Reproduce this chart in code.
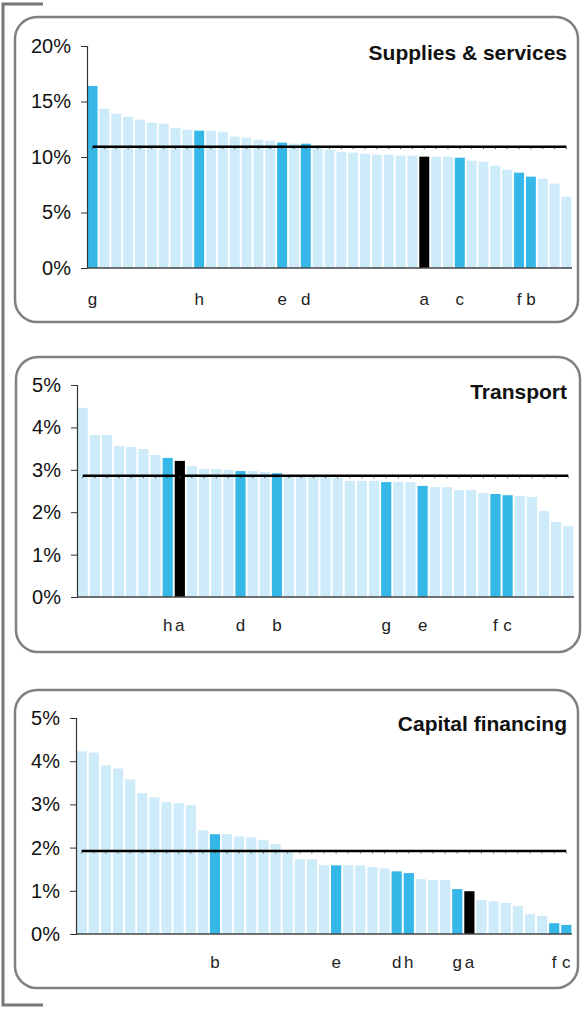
<!DOCTYPE html>
<html>
<head>
<meta charset="utf-8">
<script src="https://cdn.jsdelivr.net/npm/d3@7"></script>
<style>
  body { margin: 0; background: #fff; }
  svg { display: block; font-family: "Liberation Sans", Arial, sans-serif; }
  .tick text { font-size: 20px; fill: #111; font-family: "Liberation Sans", Arial, sans-serif; }
  .catText { font-size: 17px; fill: #222; text-anchor: middle; }
  .title { font-size: 21px; font-weight: bold; fill: #111; text-anchor: end; }
</style>
</head>
<body>
<div id="chart"></div>
<script>
// Datos de los tres paneles (ordenados de mayor a menor)

var suppliesValues = [16.4, 14.35, 13.9, 13.63, 13.36, 13.09, 13.0, 12.64, 12.46, 12.37,
  12.37, 12.28, 11.83, 11.74, 11.56, 11.47, 11.29, 11.2, 11.2, 10.84,
  10.66, 10.48, 10.39, 10.3, 10.21, 10.21, 10.12, 10.12, 10.03, 10.03,
  10.03, 9.94, 9.67, 9.58, 9.22, 8.86, 8.59, 8.23, 8.05, 7.6, 6.43];
var suppliesLabels = ["g", "", "", "", "", "", "", "", "", "h",
  "", "", "", "", "", "", "e", "", "d", "",
  "", "", "", "", "", "", "", "", "a", "",
  "", "c", "", "", "", "", "f", "b", "", "", ""];
var suppliesMean = 10.93;

var transportValues = [4.46, 3.82, 3.82, 3.56, 3.54, 3.49, 3.35, 3.28, 3.21, 3.09,
  3.02, 3.02, 3.0, 2.97, 2.97, 2.95, 2.92, 2.83, 2.83, 2.83,
  2.83, 2.81, 2.74, 2.74, 2.74, 2.71, 2.71, 2.71, 2.62, 2.59,
  2.59, 2.52, 2.52, 2.45, 2.43, 2.4, 2.38, 2.36, 2.03, 1.77, 1.67];
var transportLabels = ["", "", "", "", "", "", "", "h", "a", "",
  "", "", "", "d", "", "", "b", "", "", "",
  "", "", "", "", "", "g", "", "", "e", "",
  "", "", "", "", "f", "c", "", "", "", "", ""];
var transportMean = 2.86;

var capitalValues = [4.23, 4.2, 3.9, 3.83, 3.58, 3.26, 3.16, 3.05, 3.03, 2.98,
  2.4, 2.31, 2.31, 2.26, 2.24, 2.17, 2.08, 1.89, 1.73, 1.73,
  1.59, 1.59, 1.59, 1.59, 1.55, 1.52, 1.45, 1.41, 1.27, 1.25,
  1.25, 1.04, 0.99, 0.79, 0.76, 0.72, 0.65, 0.46, 0.42, 0.25, 0.21];
var capitalLabels = ["", "", "", "", "", "", "", "", "", "",
  "", "b", "", "", "", "", "", "", "", "",
  "", "e", "", "", "", "", "d", "h", "", "",
  "", "g", "a", "", "", "", "", "", "", "f", "c"];
var capitalMean = 1.92;

// Colores
var lightBlue = "#cdebf8";
var midBlue = "#35b8e8";
var black = "#000000";

var width = 585;
var height = 1009;

var svg = d3
  .select("#chart")
  .append("svg")
  .attr("width", width)
  .attr("height", height);

// corchete gris a la izquierda
svg
  .append("path")
  .attr("d", "M43,4 H3 V1005 H43")
  .attr("fill", "none")
  .attr("stroke", "#777")
  .attr("stroke-width", 3);

// configuracion de cada panel
var panels = [
  {
    title: "Supplies & services", values: suppliesValues, labels: suppliesLabels, mean: suppliesMean,
    box: [15, 17, 563, 305], axisX: 87, xEnd: 572, yTop: 46, yBase: 268, yMax: 20, step: 5,
    titleY: 60, catY: 305
  },
  {
    title: "Transport", values: transportValues, labels: transportLabels, mean: transportMean,
    box: [16, 357, 564, 295], axisX: 77, xEnd: 574, yTop: 385, yBase: 597, yMax: 5, step: 1,
    titleY: 399, catY: 631
  },
  {
    title: "Capital financing", values: capitalValues, labels: capitalLabels, mean: capitalMean,
    box: [15, 690, 563, 298], axisX: 76, xEnd: 572, yTop: 718, yBase: 934, yMax: 5, step: 1,
    titleY: 731, catY: 968
  }
];

panels.forEach(function(p) {
  drawPanel(p);
});

function barColor(label) {
  if (label === "a") {
    return black;
  }
  else if (label !== "") {
    return midBlue;
  }
  return lightBlue;
}

function drawPanel(p) {
  var g = svg.append("g");

  // marco redondeado
  g.append("rect")
    .attr("x", p.box[0])
    .attr("y", p.box[1])
    .attr("width", p.box[2])
    .attr("height", p.box[3])
    .attr("rx", 22)
    .attr("ry", 22)
    .attr("fill", "#fff")
    .attr("stroke", "#808080")
    .attr("stroke-width", 2.5);

  // escalas
  var xScale = d3
    .scaleBand()
    .domain(d3.range(p.values.length))
    .range([p.axisX, p.xEnd])
    .paddingInner(0.16)
    .paddingOuter(0.05);

  var yScale = d3
    .scaleLinear()
    .domain([0, p.yMax])
    .range([p.yBase, p.yTop]);

  // barras
  g.selectAll("rect.bar")
    .data(p.values)
    .enter()
    .append("rect")
    .attr("class", "bar")
    .attr("x", function(d, i) { return xScale(i); })
    .attr("y", function(d) { return yScale(d); })
    .attr("width", xScale.bandwidth())
    .attr("height", function(d) { return yScale(0) - yScale(d); })
    .attr("fill", function(d, i) { return barColor(p.labels[i]); });

  // eje Y
  var yAxis = d3
    .axisLeft(yScale)
    .tickValues(d3.range(0, p.yMax + p.step / 2, p.step))
    .tickSize(6)
    .tickPadding(10)
    .tickFormat(function(d) { return d + "%"; });

  var yG = g.append("g")
    .attr("transform", "translate(" + p.axisX + ",0)")
    .call(yAxis)
    .attr("font-family", null)
    .attr("font-size", null);
  yG.select(".domain").attr("stroke", "#333").attr("stroke-width", 1.2);
  yG.selectAll(".tick line").attr("stroke", "#333");

  // linea base
  g.append("line")
    .attr("x1", p.axisX)
    .attr("x2", p.xEnd)
    .attr("y1", yScale(0))
    .attr("y2", yScale(0))
    .attr("stroke", "#444")
    .attr("stroke-width", 1.5);

  // linea del promedio
  var half = xScale.bandwidth() / 2;
  var first = xScale(0) + half;
  var last = xScale(p.values.length - 1) + half;
  g.append("line")
    .attr("x1", first)
    .attr("x2", last)
    .attr("y1", yScale(p.mean))
    .attr("y2", yScale(p.mean))
    .attr("stroke", "#000")
    .attr("stroke-width", 2.5);

  // marcas pequeñas sobre la linea
  g.selectAll("line.mark")
    .data(p.values)
    .enter()
    .append("line")
    .attr("class", "mark")
    .attr("x1", function(d, i) { return xScale(i) + half; })
    .attr("x2", function(d, i) { return xScale(i) + half; })
    .attr("y1", yScale(p.mean) + 1)
    .attr("y2", yScale(p.mean) + 2.5)
    .attr("stroke", "#555")
    .attr("stroke-width", 1);

  // letras de categorias
  g.selectAll("text.catText")
    .data(p.labels)
    .enter()
    .filter(function(d) { return d !== ""; })
    .append("text")
    .attr("class", "catText")
    .attr("x", function(d) { return xScale(p.labels.indexOf(d)) + half; })
    .attr("y", p.catY)
    .text(function(d) { return d; });

  // titulo
  g.append("text")
    .attr("class", "title")
    .attr("x", 567)
    .attr("y", p.titleY)
    .text(p.title);
}
</script>
</body>
</html>
